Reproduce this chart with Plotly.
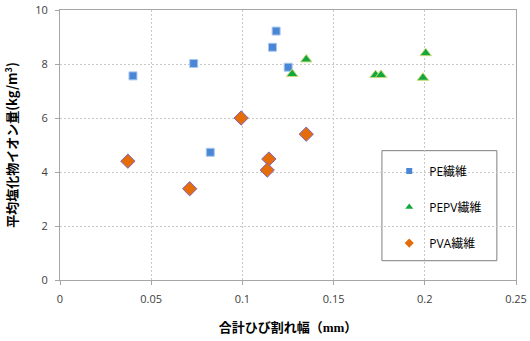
import plotly.graph_objects as go

# Data
pe_x = [0.040, 0.0733, 0.0824, 0.1185, 0.1165, 0.1251]
pe_y = [7.56, 8.02, 4.73, 9.22, 8.62, 7.88]

pepv_x = [0.135, 0.1273, 0.173, 0.176, 0.2005, 0.199]
pepv_y = [8.17, 7.63, 7.59, 7.59, 8.40, 7.49]

pva_x = [0.0372, 0.0711, 0.0993, 0.135, 0.1145, 0.1136]
pva_y = [4.40, 3.38, 6.00, 5.40, 4.48, 4.07]

series_names = ["PE繊維", "PEPV繊維", "PVA繊維"]
x_ticks = [0, 0.05, 0.1, 0.15, 0.2, 0.25]
x_tick_labels = ["0", "0.05", "0.1", "0.15", "0.2", "0.25"]
y_ticks = [0, 2, 4, 6, 8, 10]

styles = [
    dict(symbol="square", size=8, color="#4A86D6", line=dict(color="#A9C8EE", width=1)),
    dict(symbol="triangle-up", size=10, color="#14A83C", line=dict(color="#C9DB7A", width=1)),
    dict(symbol="diamond", size=11, color="#E46C0A", line=dict(color="#8064C0", width=1)),
]
legend_sizes = [6, 7, 7]
data = [(pe_x, pe_y), (pepv_x, pepv_y), (pva_x, pva_y)]
groups = ["a", "b", "c"]

fig = go.Figure()
for (xs, ys), name, st, g in zip(data, series_names, styles, groups):
    fig.add_trace(go.Scatter(x=xs, y=ys, mode="markers", name=name, legendgroup=g,
                             showlegend=False, marker=st))
for name, st, g, ls in zip(series_names, styles, groups, legend_sizes):
    lm = dict(st)
    lm["size"] = ls
    lm["line"] = dict(width=0)
    fig.add_trace(go.Scatter(x=[None], y=[None], mode="markers", name=name,
                             legendgroup=g, showlegend=True, marker=lm))

grid = dict(showgrid=True, gridcolor="#C8C8C8", griddash="2px,2px", gridwidth=1)
tickfont = dict(family="Open Sans, Liberation Sans, sans-serif", size=11, color="#404040")

fig.update_xaxes(
    range=[0, 0.25], tickvals=x_ticks, ticktext=x_tick_labels, tickfont=tickfont,
    showline=True, linecolor="#A6A6A6", linewidth=1, mirror=True, automargin=False,
    ticks="outside", ticklen=4, tickcolor="#A6A6A6", zeroline=False, ticklabelstandoff=5,
    title=dict(text="合計ひび割れ幅（<span style='font-family:Liberation Serif'>mm</span>）",
               font=dict(family="Noto Sans CJK JP", size=13, color="#000000", weight="bold"),
               standoff=17),
    **grid,
)
fig.update_yaxes(
    range=[0, 10], tickvals=y_ticks, tickfont=tickfont,
    showline=True, linecolor="#A6A6A6", linewidth=1, mirror=True, automargin=False,
    ticks="outside", ticklen=4, tickcolor="#A6A6A6", zeroline=False, ticklabelstandoff=5,
    title=dict(text="平均塩化物イオン量(kg/m<sup>3</sup>)",
               font=dict(family="Noto Sans CJK JP", size=13, color="#000000", weight="bold"),
               standoff=14),
    **grid,
)

# legend border box
fig.add_shape(type="rect", xref="paper", yref="paper",
              x0=0.706, x1=0.958, y0=0.0715, y1=0.479,
              line=dict(color="#7F7F7F", width=1), fillcolor="white", layer="below")

fig.update_layout(
    width=530, height=341,
    margin=dict(l=60, r=14, t=10, b=61),
    plot_bgcolor="rgba(0,0,0,0)", paper_bgcolor="white",
    showlegend=True,
    legend=dict(x=0.722, y=0.457, xanchor="left", yanchor="top",
                bgcolor="rgba(0,0,0,0)", borderwidth=0,
                tracegroupgap=17, traceorder="grouped",
                font=dict(family="Open Sans, Noto Sans CJK JP, sans-serif", size=12, color="#000000")),
)

fig.write_html("out.html",
               config={"displayModeBar": False},
               post_script="document.body.style.margin='0';document.body.style.overflow='hidden';")
